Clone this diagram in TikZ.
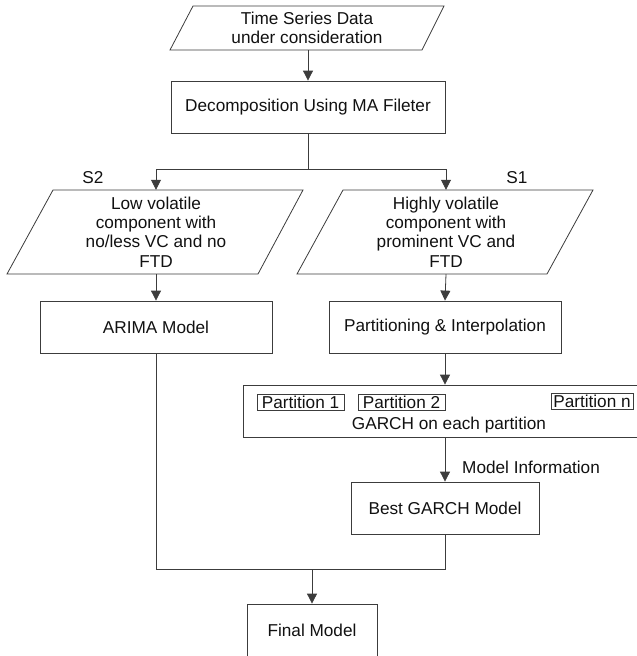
\documentclass[tikz,border=0pt]{standalone}
\usepackage{fontspec}
\setmainfont{Liberation Sans}
\usetikzlibrary{arrows.meta}
\definecolor{linecol}{HTML}{3C3C3C}
\definecolor{textcol}{HTML}{111111}
\begin{document}
\begin{tikzpicture}[x=1pt,y=-1pt,
  every node/.style={font=\fontsize{17.2}{19.2}\selectfont, text=textcol, inner sep=0pt, align=center},
  boxnode/.style={draw=linecol, line width=0.8pt, minimum height=52pt},
  partbox/.style={draw=linecol, line width=0.8pt, minimum width=87pt, minimum height=16pt},
  paratext/.style={minimum width=250pt},
  conn/.style={draw=linecol, line width=0.8pt},
  arr/.style={conn, -{Triangle[length=10pt,width=10pt]}},
  shapeline/.style={draw=linecol, line width=0.8pt}
]
\useasboundingbox (0,0) rectangle (637,656);
\clip (0,0) rectangle (637,656);

% top parallelogram
\draw[shapeline] (193,6) -- (444,6) -- (422,50) -- (170,50) -- cycle;
\node[paratext, minimum height=44pt] (ts) at (307,28) {Time Series Data\\under consideration};

% decomposition
\node[boxnode, minimum width=274pt] (dec) at (308,107) {Decomposition Using MA Fileter};

% left parallelogram
\draw[shapeline] (53,190) -- (303,190) -- (258,274) -- (7,274) -- cycle;
\node[paratext, minimum height=84pt] (low) at (156,232) {Low volatile\\component with\\no/less VC and no\\FTD};

% right parallelogram
\draw[shapeline] (343,190) -- (593,190) -- (547,274) -- (297,274) -- cycle;
\node[paratext, minimum height=84pt] (high) at (446,232) {Highly volatile\\component with\\prominent VC and\\FTD};

\node (s2) at (93,178) {S2};
\node (s1) at (517,178) {S1};

% boxes
\node[boxnode, minimum width=232pt] (arima) at (156,327) {ARIMA Model};
\node[boxnode, minimum width=232pt] (part) at (445,327) {Partitioning \& Interpolation};
\node[boxnode, minimum width=412pt, anchor=west] (garch) at (243,411) {};
\node[partbox] (p1) at (300.5,402) {Partition 1};
\node[partbox] (p2) at (401.5,402) {Partition 2};
\node[partbox, minimum width=82pt] (pn) at (592,401.5) {Partition n};
\node (glabel) at (449,425) {GARCH on each partition};
\node[boxnode, minimum width=188pt] (best) at (445,508) {Best GARCH Model};
\node[anchor=west] (minfo) at (462,467) {Model Information};
\node[boxnode, minimum width=130pt, minimum height=53pt] (final) at (312,630.5) {Final Model};

% connectors
\coordinate (j1) at (308,169);
\coordinate (j2) at (312,569);
\draw[arr] (ts.south -| dec.north) -- (dec.north);
\draw[conn] (dec.south) -- (j1);
\draw[arr] (j1) -| (low.north);
\draw[arr] (j1) -| (high.north);
\draw[arr] (low.south) -- (arima.north);
\draw[arr] (high.south) -- (part.north);
\draw[arr] (part.south) -- (part.south |- garch.north);
\draw[arr] (part.south |- garch.south) -- (best.north);
\draw[conn] (arima.south) |- (j2);
\draw[conn] (best.south) |- (j2);
\draw[arr] (j2) -- (final.north);
\end{tikzpicture}
\end{document}
